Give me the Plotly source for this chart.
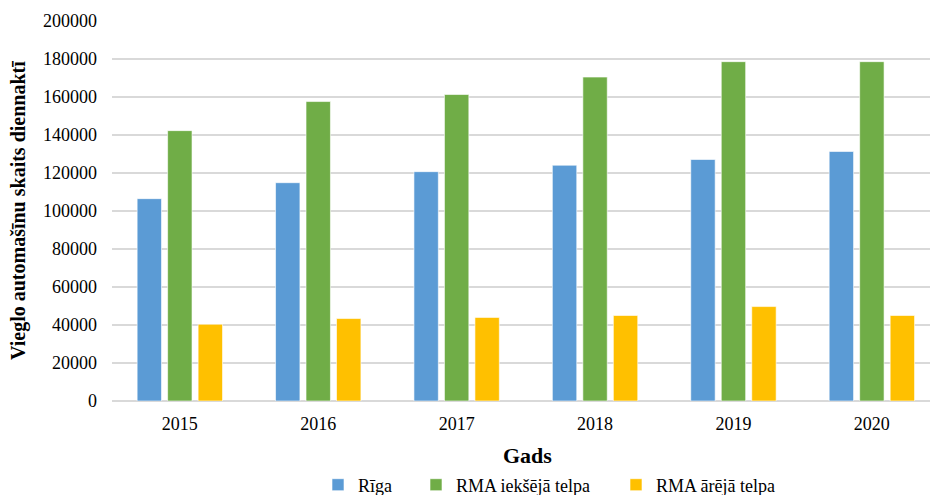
import plotly.graph_objects as go

# Daily light-vehicle counts by year
years = ["2015", "2016", "2017", "2018", "2019", "2020"]
riga = [106500, 114900, 120700, 124100, 127100, 131300]
rma_inner = [142300, 157600, 161300, 170500, 178600, 178600]
rma_outer = [40400, 43400, 44000, 45000, 49700, 45000]

series = [
    ("Rīga", riga, "#5B9BD5"),
    ("RMA iekšējā telpa", rma_inner, "#70AD47"),
    ("RMA ārējā telpa", rma_outer, "#FFC000"),
]

y_ticks = list(range(0, 200001, 20000))

serif = "Liberation Serif"

# plot area in pixels: x 112..930, y 21..401
PL, PR, PT, PB = 112, 930, 21, 401

# each series gets its own legend box so entries can be spaced freely
legend_ids = ["legend", "legend2", "legend3"]
legend_left = [318, 416, 616]

fig = go.Figure()
for (name, vals, color), lid in zip(series, legend_ids):
    fig.add_trace(go.Bar(
        x=years, y=vals, name=name, legend=lid,
        marker=dict(color=color, line=dict(color="rgba(255,255,255,0.6)", width=1)),
    ))

legend_style = dict(
    orientation="h", xref="container", yref="container",
    xanchor="left", y=1 - 485 / 495, yanchor="middle",
    font=dict(family=serif, size=18, color="#000000"),
    itemwidth=30, bgcolor="rgba(0,0,0,0)",
)

fig.update_layout(
    width=930, height=495,
    margin=dict(l=PL, r=930 - PR, t=PT, b=495 - PB),
    paper_bgcolor="white", plot_bgcolor="white",
    barmode="group", bargap=0.339, bargroupgap=0.2,
    font=dict(family=serif, size=18, color="#000000"),
    showlegend=True,
    xaxis=dict(
        type="category", range=[-0.49, 5.42],
        showgrid=False, showline=False, zeroline=False,
        ticks="", tickfont=dict(family=serif, size=18, color="#000000"),
        ticklabelstandoff=10,
    ),
    yaxis=dict(
        range=[0, 200000], tickvals=y_ticks,
        ticktext=[str(v) for v in y_ticks],
        showgrid=True, gridcolor="#D9D9D9", gridwidth=1.5,
        zeroline=True, zerolinecolor="#D9D9D9", zerolinewidth=1.5,
        showline=False, ticks="",
        tickfont=dict(family=serif, size=18, color="#000000"),
        ticklabelstandoff=14,
    ),
    annotations=[
        dict(
            text="<b>Vieglo automašīnu skaits diennaktī</b>",
            xref="paper", yref="paper", x=0, y=0.5,
            xshift=-94, xanchor="center", yanchor="middle",
            textangle=-90, showarrow=False,
            font=dict(family=serif, size=20, color="#000000"),
        ),
        dict(
            text="<b>Gads</b>",
            xref="paper", yref="paper",
            x=(527 - PL) / (PR - PL), y=-(455 - PB) / (PB - PT),
            xanchor="center", yanchor="middle", showarrow=False,
            font=dict(family=serif, size=22, color="#000000"),
        ),
    ],
)
for lid, left in zip(legend_ids, legend_left):
    fig.update_layout({lid: dict(legend_style, x=left / 930)})

fig.write_html("out.html")
